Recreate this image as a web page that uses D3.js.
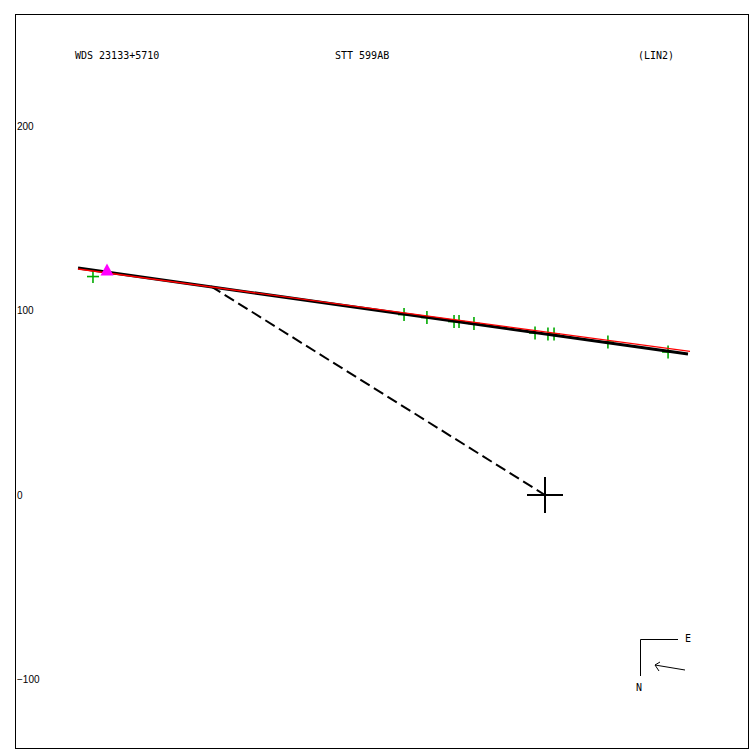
<!DOCTYPE html>
<html lang="en">
<head>
<meta charset="UTF-8">
<title>STT 599AB</title>
<style>
  body { margin: 0; background: #fff; }
  svg text { fill: #000; }
  .hdr { font-family: "DejaVu Sans Mono", monospace; font-size: 10px; }
  .tick text { font-family: "Liberation Sans", Arial, sans-serif; font-size: 10px; }
</style>
</head>
<body>
<div id="chart"></div>
<script src="https://d3js.org/d3.v7.min.js"></script>
<script>
    // header texts
    const headers = ["WDS 23133+5710", "STT 599AB", "(LIN2)"];
    const yTicks = [200, 100, 0, -100];

    // fitted linear motion (black) and ephemeris (red), in arcsec-ish units
    const fitLine = [[-253.1, 123.0], [77.5, 76.4]];
    const refLine = [[-253.1, 122.5], [78.6, 77.8]];
    // first epoch marker
    const firstPoint = [-237.4, 122.0];
    // closest approach to primary
    const closest = [[-181.0, 113.1], [0, 0]];
    // measured positions
    const obsX = [-245.0, -76.4, -64.0, -49.3, -46.6, -38.5, -5.4, 1.6, 4.9, 34.1, 66.7];
    const obsY = [118.4, 97.8, 96.2, 94.0, 94.0, 93.0, 87.8, 87.3, 87.3, 82.9, 77.5];

    const width = 750, height = 750;

    const svg = d3.select("#chart").append("svg")
        .attr("width", width)
        .attr("height", height);

    // same scale on both axes, 100 units = 184.5 px
    const x = d3.scaleLinear().domain([0, 100]).range([545, 729.5]);
    const y = d3.scaleLinear().domain([0, 100]).range([495, 310.5]);

    // frame
    svg.append("rect")
        .attr("x", 15.5).attr("y", 14.5)
        .attr("width", 733).attr("height", 734)
        .attr("fill", "none").attr("stroke", "#000").attr("stroke-width", 1);

    // y labels
    const yAxis = svg.append("g")
        .attr("transform", "translate(15,0)")
        .call(d3.axisRight(y).tickValues(yTicks).tickSize(0).tickPadding(2));
    yAxis.select(".domain").remove();

    // header
    svg.selectAll(".hdr").data(headers).enter().append("text")
        .attr("class", "hdr")
        .attr("x", (d, i) => [75, 335, 638][i])
        .attr("y", 59)
        .text(d => d);

    const line = d3.line().x(d => x(d[0])).y(d => y(d[1]));

    // dashed line to primary
    svg.append("path")
        .attr("d", line(closest))
        .attr("fill", "none").attr("stroke", "#000")
        .attr("stroke-width", 2).attr("stroke-dasharray", "11,5");

    // observations
    const obs = obsX.map((v, i) => [v, obsY[i]]);
    const g = svg.append("g").attr("stroke", "#00aa00").attr("stroke-width", 1.6);
    g.selectAll(".ox").data(obs).enter().append("line")
        .attr("x1", d => x(d[0]) - 6).attr("x2", d => x(d[0]) + 6)
        .attr("y1", d => y(d[1])).attr("y2", d => y(d[1]));
    g.selectAll(".oy").data(obs).enter().append("line")
        .attr("x1", d => x(d[0])).attr("x2", d => x(d[0]))
        .attr("y1", d => y(d[1]) - 6.5).attr("y2", d => y(d[1]) + 6.5);

    // black fit line
    svg.append("path")
        .attr("d", line(fitLine))
        .attr("fill", "none").attr("stroke", "#000").attr("stroke-width", 3);

    // red line
    svg.append("path")
        .attr("d", line(refLine))
        .attr("fill", "none").attr("stroke", "#ff0000").attr("stroke-width", 1.3);

    // magenta triangle
    const tx = x(firstPoint[0]), ty = y(firstPoint[1]);
    svg.append("path")
        .attr("d", `M${tx},${ty - 6.5} L${tx + 6.5},${ty + 5.5} L${tx - 6.5},${ty + 5.5} Z`)
        .attr("fill", "#ff00ff");

    // primary star cross
    const cx = x(0), cy = y(0);
    svg.append("line").attr("x1", cx - 18).attr("x2", cx + 18).attr("y1", cy).attr("y2", cy)
        .attr("stroke", "#000").attr("stroke-width", 2);
    svg.append("line").attr("x1", cx).attr("x2", cx).attr("y1", cy - 18).attr("y2", cy + 18)
        .attr("stroke", "#000").attr("stroke-width", 2);

    // compass
    const comp = svg.append("g").attr("transform", "translate(640,639)");
    comp.append("path").attr("d", "M38,0.5 H0.5 V37")
        .attr("fill", "none").attr("stroke", "#000");
    comp.append("text").attr("class", "hdr").attr("x", 45).attr("y", 3).text("E");
    comp.append("text").attr("class", "hdr").attr("x", -4).attr("y", 52).text("N");
    comp.append("path").attr("d", "M45,31 L15,26 M15,26 L20,23 M15,26 L19,32")
        .attr("fill", "none").attr("stroke", "#000");
</script>
</body>
</html>
